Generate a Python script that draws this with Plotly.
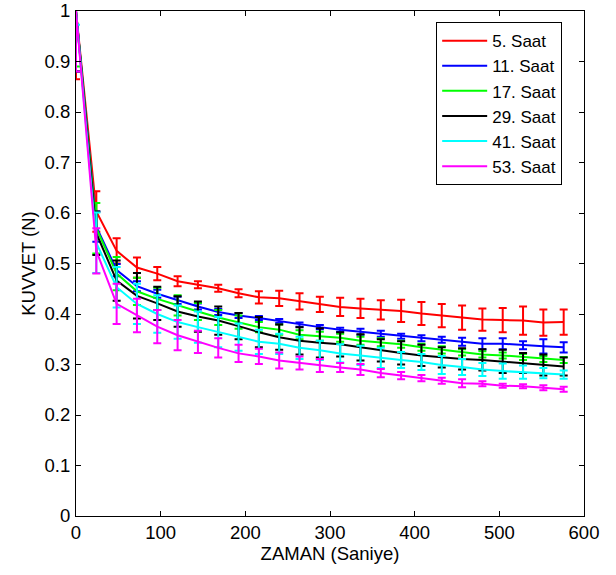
import plotly.graph_objects as go

zaman = [0, 24, 48, 72, 96, 120, 144, 168, 192, 216, 240, 264, 288, 312, 336, 360,
         384, 408, 432, 456, 480, 504, 528, 552, 576]

series_names = ["5. Saat", "11. Saat", "17. Saat", "29. Saat", "41. Saat", "53. Saat"]
series_colors = ["#FF0000", "#0000FF", "#00FF00", "#000000", "#00FFFF", "#FF00FF"]

saat5 = [1.0, 0.603, 0.525, 0.492, 0.480, 0.465, 0.458, 0.451, 0.441, 0.433, 0.431, 0.425, 0.419,
         0.414, 0.411, 0.408, 0.406, 0.401, 0.397, 0.393, 0.389, 0.388, 0.387, 0.383, 0.384]
saat5_err = [0.135, 0.040, 0.025, 0.020, 0.013, 0.010, 0.007, 0.007, 0.008, 0.012, 0.015, 0.016, 0.015,
             0.018, 0.019, 0.019, 0.022, 0.023, 0.023, 0.024, 0.022, 0.024, 0.028, 0.026, 0.025]

saat11 = [1.0, 0.573, 0.487, 0.455, 0.440, 0.427, 0.415, 0.404, 0.397, 0.392, 0.386, 0.379, 0.374,
          0.369, 0.365, 0.361, 0.356, 0.352, 0.349, 0.345, 0.341, 0.341, 0.338, 0.336, 0.334]
saat11_err = [0.120, 0.030, 0.012, 0.010, 0.008, 0.007, 0.006, 0.006, 0.005, 0.004, 0.004, 0.004, 0.004,
              0.004, 0.006, 0.006, 0.005, 0.006, 0.006, 0.008, 0.011, 0.011, 0.008, 0.014, 0.010]

saat17 = [1.0, 0.570, 0.480, 0.445, 0.430, 0.417, 0.405, 0.393, 0.384, 0.374, 0.369, 0.359, 0.356,
          0.353, 0.347, 0.344, 0.340, 0.334, 0.329, 0.324, 0.320, 0.318, 0.315, 0.311, 0.309]
saat17_err = [0.110, 0.050, 0.033, 0.027, 0.022, 0.020, 0.017, 0.015, 0.013, 0.010, 0.010, 0.009, 0.009,
              0.008, 0.008, 0.008, 0.007, 0.007, 0.007, 0.006, 0.006, 0.006, 0.006, 0.006, 0.006]

saat29 = [1.0, 0.560, 0.466, 0.436, 0.421, 0.405, 0.395, 0.387, 0.376, 0.364, 0.354, 0.347, 0.343,
          0.340, 0.334, 0.328, 0.323, 0.318, 0.314, 0.311, 0.309, 0.306, 0.303, 0.299, 0.296]
saat29_err = [0.120, 0.043, 0.040, 0.045, 0.033, 0.030, 0.030, 0.028, 0.026, 0.030, 0.025, 0.027, 0.029,
              0.024, 0.026, 0.022, 0.023, 0.021, 0.020, 0.021, 0.021, 0.023, 0.020, 0.021, 0.018]

saat41 = [1.0, 0.541, 0.453, 0.420, 0.400, 0.384, 0.374, 0.364, 0.354, 0.345, 0.341, 0.333, 0.328,
          0.322, 0.318, 0.313, 0.309, 0.305, 0.299, 0.295, 0.290, 0.287, 0.285, 0.283, 0.280]
saat41_err = [0.027, 0.060, 0.040, 0.040, 0.037, 0.033, 0.031, 0.030, 0.027, 0.024, 0.020, 0.022, 0.019,
              0.018, 0.019, 0.020, 0.016, 0.016, 0.018, 0.016, 0.013, 0.015, 0.013, 0.010, 0.008]

saat53 = [1.0, 0.525, 0.420, 0.397, 0.375, 0.358, 0.345, 0.333, 0.322, 0.316, 0.308, 0.303, 0.298,
          0.294, 0.290, 0.283, 0.278, 0.273, 0.268, 0.263, 0.262, 0.258, 0.257, 0.254, 0.251]
saat53_err = [0.120, 0.045, 0.040, 0.033, 0.033, 0.030, 0.022, 0.019, 0.017, 0.015, 0.016, 0.013, 0.013,
              0.009, 0.011, 0.008, 0.007, 0.006, 0.006, 0.008, 0.005, 0.004, 0.004, 0.005, 0.005]

y_tick_vals = [0, 0.1, 0.2, 0.3, 0.4, 0.5, 0.6, 0.7, 0.8, 0.9, 1]
y_tick_text = ["0", "0.1", "0.2", "0.3", "0.4", "0.5", "0.6", "0.7", "0.8", "0.9", "1"]
x_tick_vals = [0, 100, 200, 300, 400, 500, 600]

all_values = [saat5, saat11, saat17, saat29, saat41, saat53]
all_errors = [saat5_err, saat11_err, saat17_err, saat29_err, saat41_err, saat53_err]

FONT = "Liberation Sans, Arial, sans-serif"
FS = 18.5

fig = go.Figure()
for name, color, vals, errs in zip(series_names, series_colors, all_values, all_errors):
    fig.add_trace(go.Scatter(
        x=zaman, y=vals, name=name, mode="lines",
        line=dict(color=color, width=2),
        error_y=dict(type="data", array=errs, symmetric=True, visible=True,
                     color=color, thickness=2, width=4),
    ))

axis_common = dict(
    showline=True, linecolor="black", linewidth=1, mirror="ticks",
    ticks="inside", ticklen=5, tickcolor="black", tickwidth=1,
    showgrid=False, zeroline=False, automargin=False,
    ticklabeloverflow="allow",
    tickfont=dict(family=FONT, size=FS, color="black"),
)

fig.update_xaxes(range=[0, 600], tickvals=x_tick_vals,
                 title=dict(text="ZAMAN (Saniye)", font=dict(family=FONT, size=FS, color="black"), standoff=0),
                 **axis_common)
fig.update_yaxes(range=[0, 1], tickvals=y_tick_vals, ticktext=y_tick_text,
                 ticklabelstandoff=1,
                 title=dict(text="KUVVET (N)", font=dict(family=FONT, size=FS, color="black"), standoff=4),
                 **axis_common)

fig.update_layout(
    width=616, height=575,
    margin=dict(l=76, r=32, t=11, b=59),
    paper_bgcolor="white", plot_bgcolor="white",
    showlegend=True,
    legend=dict(x=0.709, y=0.978, xanchor="left", yanchor="top",
                bgcolor="white", bordercolor="black", borderwidth=1,
                font=dict(family=FONT, size=17, color="black"),
                itemwidth=45, tracegroupgap=0),
)

fig.write_html("out.html",
               config={"displayModeBar": False},
               post_script="document.body.style.margin='0';document.body.style.overflow='hidden';")
